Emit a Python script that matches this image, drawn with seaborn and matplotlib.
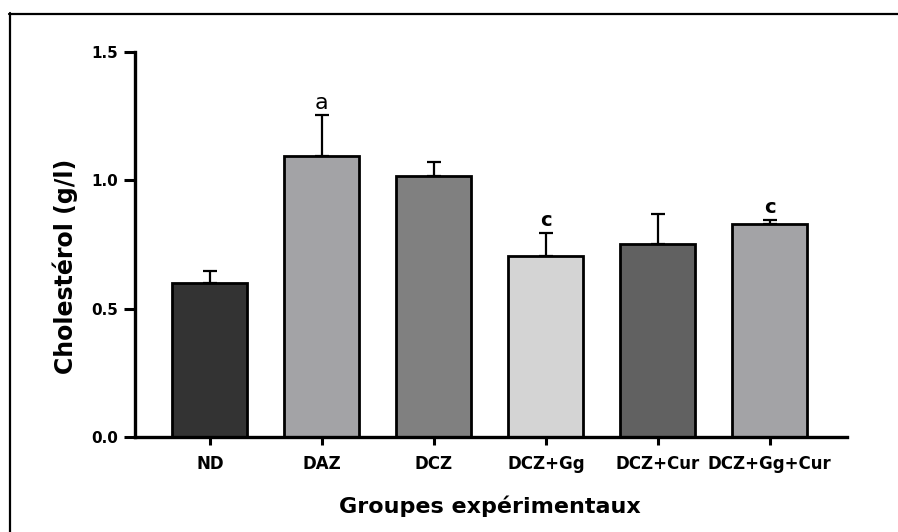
import matplotlib
matplotlib.use("Agg")
import matplotlib.pyplot as plt
import seaborn as sns
import numpy as np
import pandas as pd
from matplotlib.lines import Line2D

groups = ["ND", "DAZ", "DCZ", "DCZ+Gg", "DCZ+Cur", "DCZ+Gg+Cur"]
means = [0.60, 1.095, 1.017, 0.705, 0.752, 0.830]
errors = [0.047, 0.16, 0.054, 0.09, 0.117, 0.015]
letters = ["", "a", "", "c", "", "c"]
bar_colors = ["#333333", "#a3a3a7", "#808080", "#d4d4d4", "#616161", "#a3a3a7"]
yticks = [0.0, 0.5, 1.0, 1.5]
ytick_labels = ["0.0", "0.5", "1.0", "1.5"]

sns.set_style("white")
plt.rcParams['font.family'] = ['DejaVu Sans']
plt.rcParams['text.color'] = 'black'
plt.rcParams['axes.labelcolor'] = 'black'
plt.rcParams['xtick.color'] = 'black'
plt.rcParams['ytick.color'] = 'black'

fig = plt.figure(figsize=(8.98, 5.32), dpi=100)
ax = fig.add_axes([0.1503, 0.1786, 0.9432 - 0.1503, 0.9023 - 0.1786])

df = pd.DataFrame({"group": groups, "mean": means})
sns.barplot(data=df, x="group", y="mean", hue="group", palette=bar_colors,
            width=0.67, edgecolor="black", linewidth=2, legend=False, ax=ax,
            zorder=2)

xs = np.arange(len(groups))
ax.errorbar(xs, means, yerr=[np.zeros(len(errors)), errors], fmt="none",
            ecolor="black", elinewidth=1.6, capsize=4.7, capthick=1.6, zorder=1)

for x, m, e, lab in zip(xs, means, errors, letters):
    if not lab:
        continue
    if lab == "a":
        ax.annotate(lab, (x, m + e), xytext=(0, 1), textcoords="offset points",
                    ha="center", va="bottom", fontsize=16, fontweight="normal",
                    color="black")
    else:
        ax.annotate(lab, (x, m + e), xytext=(0, 2), textcoords="offset points",
                    ha="center", va="bottom", fontsize=14, fontweight="bold",
                    color="black")

ax.set_xlim(-0.67, 5.69)
ax.set_ylim(0, 1.5)
ax.set_yticks(yticks)
ax.set_yticklabels(ytick_labels, fontsize=11, fontweight="bold")
ax.set_xticks(xs)
ax.set_xticklabels(groups, fontsize=12, fontweight="bold")

for s in ["top", "right"]:
    ax.spines[s].set_visible(False)
for s in ["left", "bottom"]:
    ax.spines[s].set_linewidth(2.4)
    ax.spines[s].set_color("black")

ax.tick_params(axis="y", direction="out", length=8, width=2.2, pad=4, color="black", left=True)
ax.tick_params(axis="x", direction="out", length=6, width=2.2, pad=7, color="black", bottom=True)

ax.set_xlabel("Groupes expérimentaux", fontsize=16, fontweight="bold")
ax.set_ylabel("Cholestérol (g/l)", fontsize=17, fontweight="bold")
ax.xaxis.set_label_coords(0.4986, -0.152)
ax.yaxis.set_label_coords(-0.080, 0.444)

fig.add_artist(Line2D([9 / 898, 1.0], [1 - 13.5 / 532, 1 - 13.5 / 532],
                      transform=fig.transFigure, color="black", lw=1.6))
fig.add_artist(Line2D([9.5 / 898, 9.5 / 898], [0.0, 1 - 13 / 532],
                      transform=fig.transFigure, color="black", lw=1.6))

fig.savefig("out.png", dpi=100)
